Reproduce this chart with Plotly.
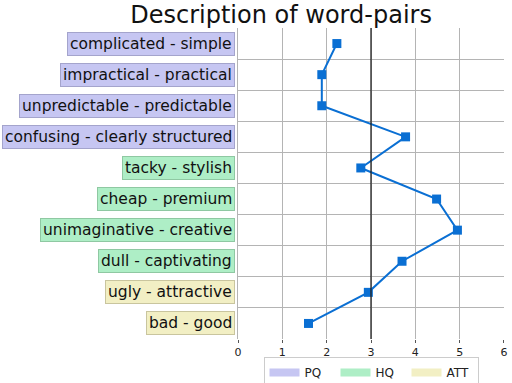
import plotly.graph_objects as go

categories = ["complicated - simple", "impractical - practical", "unpredictable - predictable",
              "confusing - clearly structured", "tacky - stylish", "cheap - premium",
              "unimaginative - creative", "dull - captivating", "ugly - attractive", "bad - good"]
groups = ["PQ", "PQ", "PQ", "PQ", "HQ", "HQ", "HQ", "HQ", "ATT", "ATT"]
values = [2.23, 1.89, 1.89, 3.78, 2.77, 4.48, 4.95, 3.70, 2.94, 1.59]
group_names = ["PQ", "HQ", "ATT"]
group_fill = {"PQ": "#c6c6f2", "HQ": "#aeeec6", "ATT": "#f2efc4"}
group_border = {"PQ": "#a4a4cc", "HQ": "#8fc8a2", "ATT": "#c9c59e"}
x_ticks = [0, 1, 2, 3, 4, 5, 6]
neutral = 3

FONT = "DejaVu Sans, Liberation Sans, sans-serif"

fig = go.Figure()
fig.add_trace(go.Scatter(
    x=values, y=categories, mode="lines+markers",
    line=dict(color="#0a6fd3", width=2),
    marker=dict(symbol="square", size=9, color="#0a6fd3"),
    showlegend=False, hoverinfo="x+y"))

for g in group_names:
    fig.add_trace(go.Scatter(x=[None], y=[None], mode="lines", name=g,
                             line=dict(color=group_fill[g], width=8)))

for cat, g in zip(categories, groups):
    fig.add_annotation(x=0, xref="paper", xshift=-3, xanchor="right",
                       y=cat, yref="y", yanchor="middle", text=cat, showarrow=False,
                       font=dict(family=FONT, size=15.5, color="#111111"),
                       bgcolor=group_fill[g], bordercolor=group_border[g],
                       borderwidth=1, borderpad=2)

fig.add_shape(type="line", x0=neutral, x1=neutral, xref="x", y0=0, y1=1, yref="paper",
              line=dict(color="#222222", width=1.3))

n = len(categories)
fig.update_layout(
    width=512, height=383,
    margin=dict(l=238, r=8, t=28, b=44, autoexpand=False),
    paper_bgcolor="white", plot_bgcolor="white",
    font=dict(family=FONT, size=11, color="#222222"),
    title=dict(text="Description of word-pairs", x=0.549, xanchor="center",
               y=0.962, yanchor="middle",
               font=dict(family=FONT, size=24, color="#111111")),
    legend=dict(orientation="h", x=0.5, xanchor="center", y=-0.058, yanchor="top",
                bordercolor="#cccccc", borderwidth=1, font=dict(size=12),
                entrywidth=26, itemwidth=30, tracegroupgap=0),
    xaxis=dict(range=[-0.001, 6.001], tickvals=x_ticks, showgrid=True, gridcolor="#b4b4b4",
               gridwidth=1, zeroline=False, showline=False, ticks="outside",
               ticklen=3, tickcolor="#555555", tickfont=dict(size=11)),
    yaxis=dict(type="category", categoryorder="array", categoryarray=categories,
               range=[n - 0.5, -0.5], autorange=False, tickson="boundaries", showgrid=True,
               gridcolor="#b4b4b4", gridwidth=1, showticklabels=False,
               showline=True, linecolor="#b4b4b4", linewidth=1, ticks="", zeroline=False),
)

fig.write_html("out.html", config={"displayModeBar": False},
               post_script="document.body.style.margin='0';document.body.style.padding='0';"
                           "document.body.style.overflow='hidden';")
